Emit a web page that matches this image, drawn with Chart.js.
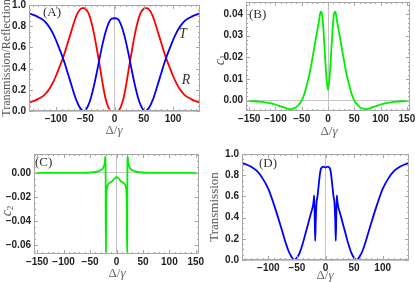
<!DOCTYPE html>
<html lang="en">
<head>
  <meta charset="UTF-8" />
  <title>Transmission / reflection panels</title>
  <script src="https://cdn.jsdelivr.net/npm/chart.js"></script>
  <style>
    body {
      margin: 0;
      background: #fff;
    }

    .panel {
      position: absolute;
    }
  </style>
</head>
<body>
  <canvas id="chartA" class="panel" width="207" height="141" style="left:0;top:0"></canvas>
  <canvas id="chartB" class="panel" width="208" height="141" style="left:207px;top:0"></canvas>
  <canvas id="chartC" class="panel" width="207" height="141" style="left:0;top:141px"></canvas>
  <canvas id="chartD" class="panel" width="208" height="141" style="left:207px;top:141px"></canvas>

  <script>
    // (A) transmission T and reflection R
    const detA = [-145, -140, -135, -130, -125, -120, -115, -110, -105, -100, -95, -90, -85, -80, -75, -70, -65, -60, -55, -52, -50, -45, -40, -35, -30, -25, -20, -15, -10, -5,
                  0,
                  5, 10, 15, 20, 25, 30, 35, 40, 45, 50, 52, 55, 60, 65, 70, 75, 80, 85, 90, 95, 100, 105, 110, 115, 120, 125, 130, 135, 140, 145];
    const transA = [0.92, 0.91, 0.90, 0.885, 0.87, 0.85, 0.82, 0.78, 0.73, 0.67, 0.60, 0.53, 0.45, 0.36, 0.27, 0.18, 0.10, 0.04, 0.005, 0.0, 0.005, 0.05, 0.13, 0.24, 0.37, 0.51, 0.64, 0.75, 0.83, 0.87,
                    0.875,
                    0.87, 0.83, 0.75, 0.64, 0.51, 0.37, 0.24, 0.13, 0.05, 0.005, 0.0, 0.005, 0.04, 0.10, 0.18, 0.27, 0.36, 0.45, 0.53, 0.60, 0.67, 0.73, 0.78, 0.82, 0.85, 0.87, 0.885, 0.90, 0.91, 0.92];
    const reflA = [0.08, 0.09, 0.10, 0.115, 0.13, 0.15, 0.18, 0.22, 0.27, 0.33, 0.40, 0.47, 0.55, 0.64, 0.73, 0.82, 0.90, 0.95, 0.97, 0.97, 0.965, 0.93, 0.85, 0.73, 0.58, 0.42, 0.25, 0.11, 0.03, 0.0,
                   0.0,
                   0.0, 0.03, 0.11, 0.25, 0.42, 0.58, 0.73, 0.85, 0.93, 0.965, 0.97, 0.97, 0.95, 0.90, 0.82, 0.73, 0.64, 0.55, 0.47, 0.40, 0.33, 0.27, 0.22, 0.18, 0.15, 0.13, 0.115, 0.10, 0.09, 0.08];

    // (B) c1
    const detB = [-150, -140, -130, -120, -110, -100, -90, -80, -75, -70, -65, -60, -55, -50, -45, -40, -35, -30, -25, -20, -17, -14, -12, -10, -8, -6, -4, -2,
                  0,
                  2, 4, 6, 8, 10, 12, 14, 17, 20, 25, 30, 35, 40, 45, 50, 55, 60, 65, 70, 75, 80, 90, 100, 110, 120, 130, 140, 150];
    const c1 = [-0.0002, -0.0003, -0.0005, -0.0008, -0.0012, -0.0018, -0.0027, -0.0035, -0.0038, -0.0039, -0.0036, -0.0029, -0.0017, 0.0, 0.003, 0.0075, 0.0125, 0.019, 0.026, 0.033, 0.037, 0.041, 0.0405, 0.037, 0.030, 0.022, 0.014, 0.008,
                0.005,
                0.008, 0.014, 0.022, 0.030, 0.037, 0.0405, 0.041, 0.037, 0.033, 0.026, 0.019, 0.0125, 0.0075, 0.003, 0.0, -0.0017, -0.0029, -0.0036, -0.0039, -0.0038, -0.0035, -0.0027, -0.0018, -0.0012, -0.0008, -0.0005, -0.0003, -0.0002];

    // (C) c2
    const detC = [-150, -120, -100, -80, -60, -50, -40, -35, -30, -27, -25, -23, -22, -21.2, -20.6, -20.3, -20, -19.5, -19, -18, -17, -16, -14, -12, -10, -8, -6, -4, -2,
                  0,
                  2, 4, 6, 8, 10, 12, 14, 16, 17, 18, 19, 19.5, 20, 20.3, 20.6, 21.2, 22, 23, 25, 27, 30, 35, 40, 50, 60, 80, 100, 120, 150];
    const c2 = [0, 0, 0, 0.0001, 0.0002, 0.0004, 0.0008, 0.0013, 0.0022, 0.0032, 0.0045, 0.007, 0.0095, 0.0135, 0.005, -0.066, -0.066, -0.03, -0.018, -0.012, -0.0105, -0.0095, -0.0085, -0.008, -0.0075, -0.0068, -0.0058, -0.0048, -0.0039,
                -0.0033,
                -0.0039, -0.0048, -0.0058, -0.0068, -0.0075, -0.008, -0.0085, -0.0095, -0.0105, -0.012, -0.018, -0.03, -0.066, -0.066, 0.005, 0.0135, 0.0095, 0.007, 0.0045, 0.0032, 0.0022, 0.0013, 0.0008, 0.0004, 0.0002, 0.0001, 0, 0, 0];

    // (D) transmission
    const detD = [-145, -140, -130, -120, -110, -100, -90, -80, -75, -70, -65, -60, -57, -55, -53, -50, -45, -40, -35, -30, -25, -22, -20.5, -19.8, -19, -18, -17, -15.5, -14, -12, -10, -8, -6, -4, -2,
                  0,
                  2, 4, 6, 8, 10, 12, 14, 15.5, 17, 18, 19, 19.8, 20.5, 22, 25, 30, 35, 40, 45, 50, 53, 55, 57, 60, 65, 70, 75, 80, 90, 100, 110, 120, 130, 140, 145];
    const transD = [0.915, 0.905, 0.88, 0.84, 0.77, 0.67, 0.52, 0.35, 0.26, 0.17, 0.09, 0.035, 0.01, 0.0, 0.005, 0.02, 0.07, 0.15, 0.25, 0.35, 0.45, 0.51, 0.57, 0.61, 0.45, 0.18, 0.38, 0.55, 0.60, 0.70, 0.80, 0.86, 0.875, 0.88, 0.877,
                    0.872,
                    0.877, 0.88, 0.875, 0.86, 0.80, 0.70, 0.60, 0.55, 0.38, 0.18, 0.45, 0.61, 0.57, 0.51, 0.45, 0.35, 0.25, 0.15, 0.07, 0.02, 0.005, 0.0, 0.01, 0.035, 0.09, 0.17, 0.26, 0.35, 0.52, 0.67, 0.77, 0.84, 0.88, 0.905, 0.915];

    // tick labels
    const xTicksAD = [-100, -50, 0, 50, 100];
    const xTicksBC = [-150, -100, -50, 0, 50, 100, 150];
    const yTicksAD = [0, 0.2, 0.4, 0.6, 0.8, 1.0];
    const yTicksB = [0, 0.01, 0.02, 0.03, 0.04];
    const yTicksC = [-0.06, -0.04, -0.02, 0];

    const SERIF = "'Liberation Serif', 'DejaVu Serif', serif";
    const SANS = "'Liberation Sans', Arial, sans-serif";

    const minus = (s) => s.replace('-', '\u2212');
    const fmtInt = (v) => minus(String(v));
    const fmtFix = (d) => (v) => minus(Number(v).toFixed(d));

    const pts = (xs, ys) => xs.map((x, i) => ({ x: x, y: ys[i] }));

    // Mathematica-style frame with inward major/minor ticks
    const frameTicks = {
      id: 'frameTicks',
      afterDatasetsDraw(chart, args, o) {
        const { ctx, chartArea: a, scales: { x, y } } = chart;
        ctx.save();
        ctx.strokeStyle = '#a8a8a8';
        ctx.lineWidth = 1;
        ctx.strokeRect(a.left + 0.5, a.top + 0.5, a.right - a.left - 1, a.bottom - a.top - 1);

        const marks = (scale, step, len, vertical) => {
          const i0 = Math.ceil(scale.min / step - 1e-6);
          const i1 = Math.floor(scale.max / step + 1e-6);
          for (let i = i0; i <= i1; i++) {
            const p = Math.round(scale.getPixelForValue(i * step)) + 0.5;
            ctx.beginPath();
            if (vertical) {
              ctx.moveTo(p, a.bottom); ctx.lineTo(p, a.bottom - len);
              ctx.moveTo(p, a.top); ctx.lineTo(p, a.top + len);
            } else {
              ctx.moveTo(a.left, p); ctx.lineTo(a.left + len, p);
              ctx.moveTo(a.right, p); ctx.lineTo(a.right - len, p);
            }
            ctx.stroke();
          }
        };
        marks(x, o.xMinor, 2, true);
        marks(x, o.xMajor, 4, true);
        marks(y, o.yMinor, 2, false);
        marks(y, o.yMajor, 4, false);
        ctx.restore();
      }
    };

    // free text: titles, panel letters, curve names
    const texts = {
      id: 'texts',
      afterDraw(chart, args, o) {
        const ctx = chart.ctx;
        (o.items || []).forEach((it) => {
          ctx.save();
          ctx.translate(it.x, it.y);
          if (it.rot) ctx.rotate(it.rot);
          ctx.fillStyle = it.color || '#555';
          ctx.textBaseline = 'middle';
          ctx.textAlign = 'left';
          let w = 0;
          it.parts.forEach((p) => { ctx.font = p.f; w += ctx.measureText(p.t).width; });
          let cx = it.align === 'left' ? 0 : -w / 2;
          it.parts.forEach((p) => {
            ctx.font = p.f;
            ctx.fillText(p.t, cx, p.dy || 0);
            cx += ctx.measureText(p.t).width;
          });
          ctx.restore();
        });
      }
    };

    const deltaGamma = (x, y) => ({
      x: x, y: y, color: '#666',
      parts: [{ t: '\u0394/', f: '13px ' + SERIF }, { t: '\u03b3', f: 'italic 13px ' + SERIF }]
    });

    function panel(id, p) {
      const zeroLine = (c) => (c.tick && Math.abs(c.tick.value) < 1e-9 ? '#c4c4c4' : 'rgba(0,0,0,0)');
      const tickFont = { family: SANS, size: 10, weight: 'bold' };
      return new Chart(document.getElementById(id), {
        type: 'line',
        data: {
          datasets: p.series.map((s) => ({
            data: s.data,
            borderColor: s.color,
            borderWidth: 1.8,
            pointRadius: 0,
            fill: false,
            cubicInterpolationMode: 'monotone'
          }))
        },
        options: {
          responsive: false,
          animation: false,
          events: [],
          layout: { padding: { left: 0, top: p.top, right: p.right, bottom: 0 } },
          plugins: {
            legend: { display: false },
            tooltip: { enabled: false },
            frameTicks: p.ticks,
            texts: { items: p.texts }
          },
          scales: {
            x: {
              type: 'linear',
              min: p.xMin,
              max: p.xMax,
              afterBuildTicks: (s) => { s.ticks = p.xTicks.map((v) => ({ value: v })); },
              afterFit: (s) => { s.height = p.xh; s.paddingLeft = 0; s.paddingRight = 0; },
              grid: { drawTicks: false, color: zeroLine, lineWidth: 1 },
              border: { display: false },
              ticks: { padding: 2, autoSkip: false, maxRotation: 0, color: '#222', font: tickFont, callback: fmtInt }
            },
            y: {
              type: 'linear',
              min: p.yMin,
              max: p.yMax,
              afterBuildTicks: (s) => { s.ticks = p.yTicks.map((v) => ({ value: v })); },
              afterFit: (s) => { s.width = p.yw; s.paddingTop = 0; s.paddingBottom = 0; },
              grid: { drawTicks: false, color: zeroLine, lineWidth: 1 },
              border: { display: false },
              ticks: { padding: 3, autoSkip: false, color: '#222', font: tickFont, callback: p.yFmt }
            }
          }
        },
        plugins: [frameTicks, texts]
      });
    }

    panel('chartA', {
      top: 5, right: 7, yw: 29, xh: 30,
      xMin: -146, xMax: 146, yMin: 0, yMax: 1,
      xTicks: xTicksAD, yTicks: yTicksAD, yFmt: fmtFix(1),
      ticks: { xMajor: 50, xMinor: 10, yMajor: 0.2, yMinor: 0.05 },
      series: [
        { data: pts(detA, transA), color: '#0000ff' },
        { data: pts(detA, reflA), color: '#ff0000' }
      ],
      texts: [
        { x: 7, y: 58, rot: -Math.PI / 2, color: '#555', parts: [{ t: 'Transmission/Reflection', f: '12px ' + SERIF }] },
        deltaGamma(114, 131),
        { x: 43, y: 13, align: 'left', color: '#333', parts: [{ t: '(A)', f: '13px ' + SERIF }] },
        { x: 183, y: 34, color: '#333', parts: [{ t: 'T', f: 'italic 14px ' + SERIF }] },
        { x: 186, y: 80, color: '#333', parts: [{ t: 'R', f: 'italic 14px ' + SERIF }] }
      ]
    });

    panel('chartB', {
      top: 2, right: 5, yw: 39, xh: 30,
      xMin: -156, xMax: 156, yMin: -0.0048, yMax: 0.0455,
      xTicks: xTicksBC, yTicks: yTicksB, yFmt: fmtFix(2),
      ticks: { xMajor: 50, xMinor: 10, yMajor: 0.01, yMinor: 0.002 },
      series: [{ data: pts(detB, c1), color: '#00ee00' }],
      texts: [
        { x: 13, y: 60, rot: -Math.PI / 2, color: '#555',
          parts: [{ t: 'c', f: 'italic 14px ' + SERIF }, { t: '1', f: '9px ' + SERIF, dy: 4 }] },
        deltaGamma(122, 132),
        { x: 42, y: 15, align: 'left', color: '#333', parts: [{ t: '(B)', f: '13px ' + SERIF }] }
      ]
    });

    panel('chartC', {
      top: 13, right: 8, yw: 34, xh: 28,
      xMin: -156, xMax: 156, yMin: -0.0675, yMax: 0.0158,
      xTicks: xTicksBC, yTicks: yTicksC, yFmt: fmtFix(2),
      ticks: { xMajor: 50, xMinor: 10, yMajor: 0.02, yMinor: 0.005 },
      series: [{ data: pts(detC, c2), color: '#00ee00' }],
      texts: [
        { x: 7, y: 70, rot: -Math.PI / 2, color: '#555',
          parts: [{ t: 'c', f: 'italic 14px ' + SERIF }, { t: '2', f: '9px ' + SERIF, dy: 4 }] },
        deltaGamma(117, 133),
        { x: 35, y: 22, align: 'left', color: '#333', parts: [{ t: '(C)', f: '13px ' + SERIF }] }
      ]
    });

    panel('chartD', {
      top: 13, right: 6, yw: 35, xh: 22,
      xMin: -146, xMax: 146, yMin: 0, yMax: 1,
      xTicks: xTicksAD, yTicks: yTicksAD, yFmt: fmtFix(1),
      ticks: { xMajor: 50, xMinor: 10, yMajor: 0.2, yMinor: 0.05 },
      series: [{ data: pts(detD, transD), color: '#0000ff' }],
      texts: [
        { x: 8, y: 66, rot: -Math.PI / 2, color: '#555', parts: [{ t: 'Transmission', f: '13px ' + SERIF }] },
        deltaGamma(118, 135),
        { x: 52, y: 23, align: 'left', color: '#333', parts: [{ t: '(D)', f: '13px ' + SERIF }] }
      ]
    });
  </script>
</body>
</html>
